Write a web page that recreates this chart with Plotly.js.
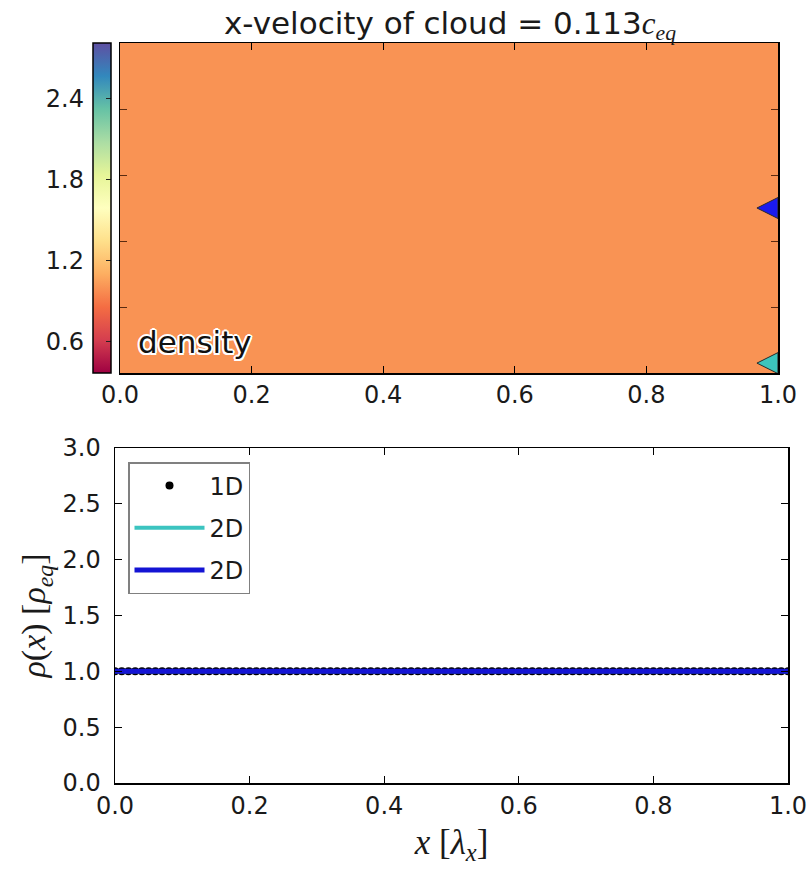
<!DOCTYPE html>
<html><head><meta charset="utf-8">
<script src="https://cdn.plot.ly/plotly-3.0.1.min.js"></script>
<style>body{margin:0;background:#fff}</style>
</head><body><div id="chart" style="width:807px;height:871px"></div>
<script>
// ---- top panel: cloud density map ----
const cloudXEdges = [0.0, 0.2, 0.4, 0.6, 0.8, 1.0];
const cloudYEdges = [0.0, 0.25, 0.5, 0.75, 1.0];
const cloudDensity = [
  [1.0, 1.0, 1.0, 1.0, 1.0],
  [1.0, 1.0, 1.0, 1.0, 1.0],
  [1.0, 1.0, 1.0, 1.0, 1.0],
  [1.0, 1.0, 1.0, 1.0, 1.0]
];
const densityRange = [0.37, 2.81];
const densityTicks = [0.6, 1.2, 1.8, 2.4];
const xTicks = [0.0, 0.2, 0.4, 0.6, 0.8, 1.0];
const rhoTicks = [0.0, 0.5, 1.0, 1.5, 2.0, 2.5, 3.0];
const markerX = [0.968, 0.968];
const markerY = [0.5, 0.03];
const markerColors = ['#1a1aee', '#3cc4bc'];
const velocityText = '0.113';

// ---- bottom panel: density profile ----
const xProfile = [0.00,0.01,0.02,0.03,0.04,0.05,0.06,0.07,0.08,0.09,
  0.10,0.11,0.12,0.13,0.14,0.15,0.16,0.17,0.18,0.19,
  0.20,0.21,0.22,0.23,0.24,0.25,0.26,0.27,0.28,0.29,
  0.30,0.31,0.32,0.33,0.34,0.35,0.36,0.37,0.38,0.39,
  0.40,0.41,0.42,0.43,0.44,0.45,0.46,0.47,0.48,0.49,
  0.50,0.51,0.52,0.53,0.54,0.55,0.56,0.57,0.58,0.59,
  0.60,0.61,0.62,0.63,0.64,0.65,0.66,0.67,0.68,0.69,
  0.70,0.71,0.72,0.73,0.74,0.75,0.76,0.77,0.78,0.79,
  0.80,0.81,0.82,0.83,0.84,0.85,0.86,0.87,0.88,0.89,
  0.90,0.91,0.92,0.93,0.94,0.95,0.96,0.97,0.98,0.99,1.00];
const rho1D = [1,1,1,1,1,1,1,1,1,1, 1,1,1,1,1,1,1,1,1,1, 1,1,1,1,1,1,1,1,1,1,
  1,1,1,1,1,1,1,1,1,1, 1,1,1,1,1,1,1,1,1,1, 1,1,1,1,1,1,1,1,1,1,
  1,1,1,1,1,1,1,1,1,1, 1,1,1,1,1,1,1,1,1,1, 1,1,1,1,1,1,1,1,1,1,
  1,1,1,1,1,1,1,1,1,1, 1];
const rho2Dcyan = [1,1,1,1,1,1,1,1,1,1, 1,1,1,1,1,1,1,1,1,1, 1,1,1,1,1,1,1,1,1,1,
  1,1,1,1,1,1,1,1,1,1, 1,1,1,1,1,1,1,1,1,1, 1,1,1,1,1,1,1,1,1,1,
  1,1,1,1,1,1,1,1,1,1, 1,1,1,1,1,1,1,1,1,1, 1,1,1,1,1,1,1,1,1,1,
  1,1,1,1,1,1,1,1,1,1, 1];
const rho2Dblue = [1,1,1,1,1,1,1,1,1,1, 1,1,1,1,1,1,1,1,1,1, 1,1,1,1,1,1,1,1,1,1,
  1,1,1,1,1,1,1,1,1,1, 1,1,1,1,1,1,1,1,1,1, 1,1,1,1,1,1,1,1,1,1,
  1,1,1,1,1,1,1,1,1,1, 1,1,1,1,1,1,1,1,1,1, 1,1,1,1,1,1,1,1,1,1,
  1,1,1,1,1,1,1,1,1,1, 1];
const seriesNames = ['1D', '2D', '2D'];

const W = 807, H = 871;
const px = v => v / W;
const py = v => 1 - v / H;

const spectralR = [
  [0.0, '#9e0142'], [0.1, '#d53e4f'], [0.2, '#f46d43'], [0.3, '#fdae61'],
  [0.4, '#fee08b'], [0.5, '#ffffbf'], [0.6, '#e6f598'], [0.7, '#abdda4'],
  [0.8, '#66c2a5'], [0.9, '#3288bd'], [1.0, '#5e4fa2']
];

const TXT = '#1a1a1a';
const tickFont = {family: 'DejaVu Sans', size: 24, color: TXT};

const traces = [
  {
    type: 'heatmap', x: cloudXEdges, y: cloudYEdges, z: cloudDensity,
    xaxis: 'x', yaxis: 'y', colorscale: spectralR,
    zmin: densityRange[0], zmax: densityRange[1], zsmooth: false,
    hoverinfo: 'skip',
    colorbar: {
      x: px(93), xanchor: 'left', y: py(373), yanchor: 'bottom',
      len: 330 / H, lenmode: 'fraction', thickness: 18, thicknessmode: 'pixels',
      xpad: 0, ypad: 0, outlinewidth: 1.5, outlinecolor: '#000',
      showticklabels: false, ticks: 'inside', ticklen: 5, tickcolor: '#222',
      tickvals: densityTicks
    }
  },
  {
    type: 'scatter', mode: 'markers', x: markerX, y: markerY,
    xaxis: 'x', yaxis: 'y', showlegend: false, hoverinfo: 'skip',
    marker: {symbol: 'arrow-left', size: 21, color: markerColors,
      line: {width: 1, color: '#2a2a2a'}}
  },
  { // carrier for the colourbar tick-label axis
    type: 'scatter', mode: 'markers', x: [], y: [], xaxis: 'x3', yaxis: 'y3',
    showlegend: false, hoverinfo: 'skip'
  },
  {
    type: 'scatter', mode: 'markers', x: xProfile, y: rho1D, name: seriesNames[0],
    xaxis: 'x2', yaxis: 'y2', legendgroup: 'a',
    marker: {color: '#000', size: 8}
  },
  {
    type: 'scatter', mode: 'lines', x: xProfile, y: rho2Dcyan, name: seriesNames[1],
    xaxis: 'x2', yaxis: 'y2', legendgroup: 'b',
    line: {color: '#3cc4c0', width: 4}
  },
  {
    type: 'scatter', mode: 'lines', x: xProfile, y: rho2Dblue, name: seriesNames[2],
    xaxis: 'x2', yaxis: 'y2', legendgroup: 'c',
    line: {color: '#1414d4', width: 5}
  }
];

const frameAxis = {
  showline: true, linecolor: '#000', linewidth: 1.5, mirror: 'ticks',
  ticks: 'inside', ticklen: 7, tickcolor: '#000', tickwidth: 1,
  showgrid: false, zeroline: false, fixedrange: true, tickfont: tickFont,
  ticklabeloverflow: 'allow'
};

const layout = {
  width: W, height: H,
  margin: {l: 0, r: 0, t: 0, b: 0},
  paper_bgcolor: '#fff', plot_bgcolor: '#fff',
  font: {family: 'DejaVu Sans', size: 24, color: TXT},
  showlegend: true,
  title: {
    text: 'x-velocity of cloud = ' + velocityText +
      '<span style="font-family:\'Liberation Serif\'"><i>c</i><sub><i>eq</i></sub></span>',
    font: {family: 'DejaVu Sans', size: 31, color: TXT},
    x: px(450), xanchor: 'center', xref: 'paper',
    y: py(23), yanchor: 'middle', yref: 'paper'
  },
  xaxis: Object.assign({}, frameAxis, {
    domain: [px(120), px(778)], anchor: 'y', range: [0, 1],
    tickvals: xTicks, tickformat: '.1f', ticklabelstandoff: 0
  }),
  yaxis: Object.assign({}, frameAxis, {
    domain: [py(373), py(43)], anchor: 'x', range: [0, 1],
    dtick: 0.2, tick0: 0, showticklabels: false, tickcolor: '#5a2a10'
  }),
  xaxis3: {
    domain: [px(93), px(111)], anchor: 'y3', range: [0, 1], visible: false, fixedrange: true
  },
  yaxis3: {
    domain: [py(373), py(43)], anchor: 'x3', range: densityRange,
    tickvals: densityTicks, tickformat: '.1f', ticks: '', showline: false,
    showgrid: false, zeroline: false, fixedrange: true, tickfont: tickFont,
    ticklabelstandoff: 8, ticklabeloverflow: 'allow'
  },
  xaxis2: Object.assign({}, frameAxis, {
    domain: [px(115), px(788)], anchor: 'y2', range: [0, 1],
    tickvals: xTicks, tickformat: '.1f', ticklabelstandoff: 1,
    title: {
      text: '<i>x</i> [<i>λ</i><sub><i>x</i></sub>]',
      font: {family: 'Liberation Serif', size: 35, color: TXT}, standoff: 10
    }
  }),
  yaxis2: Object.assign({}, frameAxis, {
    domain: [py(783), py(448)], anchor: 'x2', range: [0, 3],
    tickvals: rhoTicks, tickformat: '.1f', ticklabelstandoff: 8,
    title: {
      text: '<i>ρ</i>(<i>x</i>) [<i>ρ</i><sub><i>eq</i></sub>]',
      font: {family: 'Liberation Serif', size: 34, color: TXT}, standoff: 6
    }
  }),
  legend: {
    x: px(128), xanchor: 'left', y: py(462), yanchor: 'top',
    xref: 'paper', yref: 'paper',
    bgcolor: '#fff', bordercolor: '#808080', borderwidth: 1.5,
    font: {family: 'DejaVu Sans', size: 24, color: TXT},
    traceorder: 'grouped', tracegroupgap: 8, itemwidth: 70
  },
  annotations: [{
    text: 'density', xref: 'paper', yref: 'paper',
    x: px(195), y: py(342), xanchor: 'center', yanchor: 'middle',
    showarrow: false,
    font: {family: 'DejaVu Sans', size: 31, color: '#111',
      shadow: '2px 0 0 #fff, -2px 0 0 #fff, 0 2px 0 #fff, 0 -2px 0 #fff, 1.5px 1.5px 0 #fff, -1.5px -1.5px 0 #fff, 1.5px -1.5px 0 #fff, -1.5px 1.5px 0 #fff'}
  }]
};

Plotly.newPlot('chart', traces, layout, {displayModeBar: false, staticPlot: true});
</script>
</body></html>
